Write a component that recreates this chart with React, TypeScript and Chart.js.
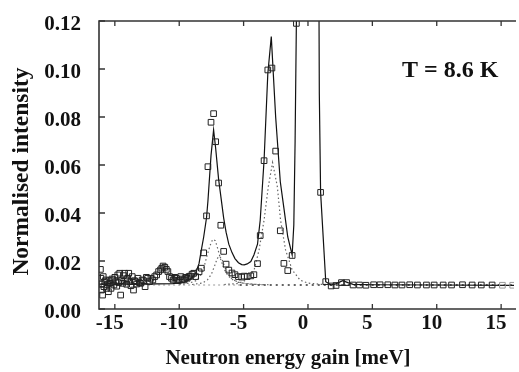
import React, { useEffect, useRef } from 'react';
import { Chart, registerables } from 'chart.js';

Chart.register(...registerables);

const xTickValues = [-15, -10, -5, 0, 5, 10, 15];
const yTickValues = [0, 0.02, 0.04, 0.06, 0.08, 0.1, 0.12];

const xTitle = 'Neutron energy gain [meV]';
const yTitle = 'Normalised intensity';
const tempLabel = 'T = 8.6 K';

// measured points (open squares)
const dataX = [
  -16.12, -16.08, -16.05, -16.0, -15.95, -15.9, -15.85, -15.78, -15.7, -15.64,
  -15.58, -15.5, -15.45, -15.38, -15.3, -15.22, -15.15, -15.07, -15.0, -14.92,
  -14.85, -14.77, -14.7, -14.62, -14.55, -14.47, -14.38, -14.3, -14.24, -14.15,
  -14.08, -14.0, -13.92, -13.83, -13.75, -13.65, -13.55, -13.48, -13.4, -13.3,
  -13.2, -13.1, -13.0, -12.88, -12.77, -12.65, -12.55, -12.45, -12.3, -12.2,
  -12.05, -11.9, -11.75, -11.6, -11.45, -11.35, -11.25, -11.12, -11.0, -10.88,
  -10.75, -10.6, -10.47, -10.35, -10.22, -10.1, -10.0, -9.88, -9.75, -9.62,
  -9.5, -9.38, -9.25, -9.13, -9.0, -8.87, -8.72, -8.46, -8.28, -8.1,
  -7.88, -7.77, -7.53, -7.33, -7.17, -6.94, -6.77, -6.55, -6.36, -6.15,
  -5.9, -5.67, -5.4, -5.15, -4.95, -4.72, -4.44, -4.2, -3.92, -3.71,
  -3.41, -3.12, -2.8, -2.51, -2.15, -1.87, -1.57, -1.23, -0.9, 0.98,
  1.38, 1.8, 2.18, 2.6, 3.0, 3.5, 4.0, 4.5, 5.1, 5.6,
  6.2, 6.75, 7.3, 7.9, 8.5, 9.2, 9.8, 10.5, 11.15, 12.0,
  12.75, 13.46, 14.3, 15.1, 15.9,
];
const dataY = [
  0.0165, 0.0128, 0.0079, 0.0105, 0.0058, 0.0135, 0.0093, 0.0114, 0.0121, 0.0086,
  0.0102, 0.0072, 0.0118, 0.0107, 0.0086, 0.0125, 0.0121, 0.01, 0.0132, 0.0114,
  0.0095, 0.0142, 0.011, 0.0149, 0.0058, 0.0118, 0.0107, 0.0139, 0.0149, 0.0121,
  0.0103, 0.0128, 0.0149, 0.0114, 0.0097, 0.0135, 0.0079, 0.0118, 0.0114, 0.0104,
  0.0128, 0.011, 0.0107, 0.0121, 0.0118, 0.0093, 0.0132, 0.0128, 0.0114, 0.0128,
  0.0121, 0.0135, 0.0142, 0.0156, 0.0163, 0.017, 0.0179, 0.0174, 0.0165, 0.0156,
  0.0135, 0.0128, 0.0121, 0.0132, 0.0128, 0.0118, 0.0121, 0.0135, 0.0125, 0.0121,
  0.0132, 0.0128, 0.0135, 0.0137, 0.0145, 0.0149, 0.0135, 0.0155, 0.017, 0.0234,
  0.0388, 0.0593, 0.0778, 0.0814, 0.0697, 0.0525, 0.0349, 0.024, 0.0187, 0.0162,
  0.015, 0.0143, 0.0135, 0.0133, 0.0137, 0.0135, 0.0138, 0.0143, 0.0189, 0.0306,
  0.0618, 0.0996, 0.1004, 0.0658, 0.0326, 0.019, 0.016, 0.0223, 0.119, 0.0486,
  0.0114, 0.0096, 0.0098, 0.011, 0.011, 0.01, 0.01, 0.0099, 0.0101, 0.0101,
  0.0101, 0.01, 0.01, 0.0101, 0.01, 0.01, 0.01, 0.01, 0.01, 0.0101,
  0.01, 0.01, 0.01, 0.0099, 0.0099,
];

// total fit (solid line)
const fitX = [
  -16.3, -13, -10.5, -9.6, -9.2, -8.87, -8.72, -8.46, -8.28, -8.1,
  -7.88, -7.77, -7.53, -7.33, -7.17, -6.94, -6.77, -6.55, -6.36, -6.15,
  -5.9, -5.67, -5.4, -5.15, -4.95, -4.72, -4.44, -4.2, -3.92, -3.71,
  -3.41, -3.12, -2.85, -2.51, -2.15, -1.87, -1.57, -1.23, -1.1, -1.0,
  -0.9, -0.8, 0, 0.8, 0.88, 0.98, 1.38, 1.8, 2.2, 2.7,
  3.1, 3.5, 5, 10, 16.3,
];
const fitY = [
  0.0104, 0.0104, 0.0106, 0.0112, 0.0122, 0.0138, 0.015, 0.019, 0.0246, 0.03,
  0.038, 0.045, 0.064, 0.0746, 0.067, 0.054, 0.047, 0.038, 0.032, 0.027,
  0.0235, 0.021, 0.0193, 0.0185, 0.0184, 0.0188, 0.0198, 0.0225, 0.027, 0.037,
  0.062, 0.098, 0.1135, 0.08, 0.053, 0.042, 0.03, 0.0225, 0.035, 0.07,
  0.12, 0.2, 0.9, 0.2, 0.09, 0.0486, 0.0114, 0.01, 0.0106, 0.0118,
  0.011, 0.0103, 0.0101, 0.01, 0.0098,
];

// component under first peak (dotted)
const comp1X = [-10, -9.2, -8.7, -8.4, -8.1, -7.85, -7.6, -7.4, -7.2, -7.0, -6.8, -6.5, -6.2, -5.8, -5.2, -4.2, -3];
const comp1Y = [0.0101, 0.0108, 0.0118, 0.0135, 0.017, 0.022, 0.0265, 0.029, 0.0285, 0.025, 0.021, 0.0165, 0.0138, 0.012, 0.0109, 0.0103, 0.0101];

// second component under first peak (dotted)
const comp2X = [-9, -8.2, -7.8, -7.5, -7.25, -7.05, -6.9, -6.7, -6.5, -6.25, -5.9, -5.4, -4.6, -3.5];
const comp2Y = [0.0102, 0.0108, 0.0122, 0.0145, 0.018, 0.021, 0.022, 0.021, 0.018, 0.0148, 0.0125, 0.0111, 0.0104, 0.0101];

// component under second peak (dotted)
const comp3X = [-6.5, -5.5, -4.8, -4.18, -3.8, -3.41, -3.08, -2.75, -2.38, -2.13, -1.74, -1.23, -0.6, 0, 1, 2, 3];
const comp3Y = [0.0102, 0.0106, 0.012, 0.0163, 0.0246, 0.037, 0.051, 0.061, 0.051, 0.037, 0.0246, 0.0163, 0.012, 0.0108, 0.0103, 0.0101, 0.01];

// flat background (dashed)
const bgLightX = [-16.3, -5.3];
const bgLightY = [0.01, 0.01];
const bgDarkX = [-5.3, 16.3];
const bgDarkY = [0.01, 0.01];

const pts = (xs: number[], ys: number[]) => xs.map((x, i) => ({ x, y: ys[i] }));

const decorPlugin = {
  id: 'decor',
  afterDraw(chart: any) {
    const { ctx, chartArea: a, scales } = chart;
    ctx.save();
    ctx.strokeStyle = '#333';
    ctx.lineWidth = 1.6;
    ctx.beginPath();
    ctx.moveTo(a.right + 2, a.top);
    ctx.lineTo(a.left, a.top);
    ctx.lineTo(a.left, a.bottom);
    ctx.lineTo(a.right + 2, a.bottom);
    ctx.stroke();
    ctx.lineWidth = 1.3;
    ctx.beginPath();
    for (const v of xTickValues) {
      const px = scales.x.getPixelForValue(v);
      ctx.moveTo(px, a.bottom);
      ctx.lineTo(px, a.bottom - 5);
      ctx.moveTo(px, a.top);
      ctx.lineTo(px, a.top + 5);
    }
    for (const v of yTickValues) {
      const py = scales.y.getPixelForValue(v);
      ctx.moveTo(a.left, py);
      ctx.lineTo(a.left + 6, py);
    }
    ctx.stroke();

    ctx.fillStyle = '#111';
    ctx.font = 'bold 21px "Liberation Serif"';
    ctx.textAlign = 'center';
    ctx.textBaseline = 'alphabetic';
    ctx.fillText(xTitle, 288, 364);

    ctx.save();
    ctx.translate(28, 171.5);
    ctx.rotate(-Math.PI / 2);
    ctx.font = 'bold 23.5px "Liberation Serif"';
    ctx.fillText(yTitle, 0, 0);
    ctx.restore();

    ctx.font = 'bold 24px "Liberation Serif"';
    ctx.textAlign = 'left';
    ctx.fillText(tempLabel, 402, 77);
    ctx.restore();
  },
};

export default function App() {
  const ref = useRef<HTMLCanvasElement | null>(null);
  useEffect(() => {
    if (!ref.current) return;
    const lineBase = { showLine: true, pointRadius: 0, pointHoverRadius: 0, fill: false, tension: 0 };
    const chart = new Chart(ref.current, {
      type: 'scatter',
      data: {
        datasets: [
          {
            label: 'data',
            data: pts(dataX, dataY),
            showLine: false,
            pointStyle: 'rect',
            pointRadius: 4,
            pointBorderWidth: 1,
            pointBackgroundColor: 'rgba(255,255,255,0)',
            pointBorderColor: (c: any) => (c.raw && c.raw.x > 14.8 ? '#999' : '#222'),
          } as any,
          { label: 'fit', data: pts(fitX, fitY), ...lineBase, borderColor: '#111', borderWidth: 1.2 },
          { label: 'c1', data: pts(comp1X, comp1Y), ...lineBase, borderColor: '#666', borderWidth: 1.2, borderDash: [1.5, 2.5] },
          { label: 'c2', data: pts(comp2X, comp2Y), ...lineBase, borderColor: '#666', borderWidth: 1.2, borderDash: [1.5, 2.5] },
          { label: 'c3', data: pts(comp3X, comp3Y), ...lineBase, borderColor: '#666', borderWidth: 1.2, borderDash: [1.5, 2.5] },
          { label: 'bg1', data: pts(bgLightX, bgLightY), ...lineBase, borderColor: '#999', borderWidth: 1.2, borderDash: [2, 3] },
          { label: 'bg2', data: pts(bgDarkX, bgDarkY), ...lineBase, borderColor: '#333', borderWidth: 1.6, borderDash: [2, 4] },
        ],
      },
      options: {
        responsive: false,
        animation: false,
        events: [],
        layout: { padding: { top: 21, left: 0, right: 0, bottom: 0 } },
        plugins: { legend: { display: false }, tooltip: { enabled: false } },
        scales: {
          x: {
            type: 'linear',
            min: -16.23,
            max: 16.0,
            grid: { display: false, drawTicks: false },
            border: { display: false },
            afterBuildTicks: (s: any) => {
              s.ticks = xTickValues.map((v) => ({ value: v }));
            },
            afterFit: (s: any) => {
              s.height = 63;
              s.paddingLeft = 0;
              s.paddingRight = 0;
            },
            ticks: {
              padding: 2,
              labelOffset: -5,
              color: '#111',
              font: { family: 'Liberation Serif', size: 21, weight: 'bold' },
              callback: (v: any) => String(v),
            },
          },
          y: {
            type: 'linear',
            min: 0,
            max: 0.12,
            grid: { display: false, drawTicks: false },
            border: { display: false },
            afterBuildTicks: (s: any) => {
              s.ticks = yTickValues.map((v) => ({ value: v }));
            },
            afterFit: (s: any) => {
              s.width = 99;
              s.paddingTop = 0;
              s.paddingBottom = 0;
            },
            ticks: {
              padding: 18,
              labelOffset: 4,
              color: '#111',
              font: { family: 'Liberation Serif', size: 21, weight: 'bold' },
              callback: (v: any) => Number(v).toFixed(2),
            },
          },
        },
      },
      plugins: [decorPlugin],
    } as any);
    return () => chart.destroy();
  }, []);

  return (
    <div style={{ position: 'fixed', left: 0, top: 0, width: 519, height: 372, background: '#fff' }}>
      <canvas ref={ref} width={519} height={372} />
    </div>
  );
}
